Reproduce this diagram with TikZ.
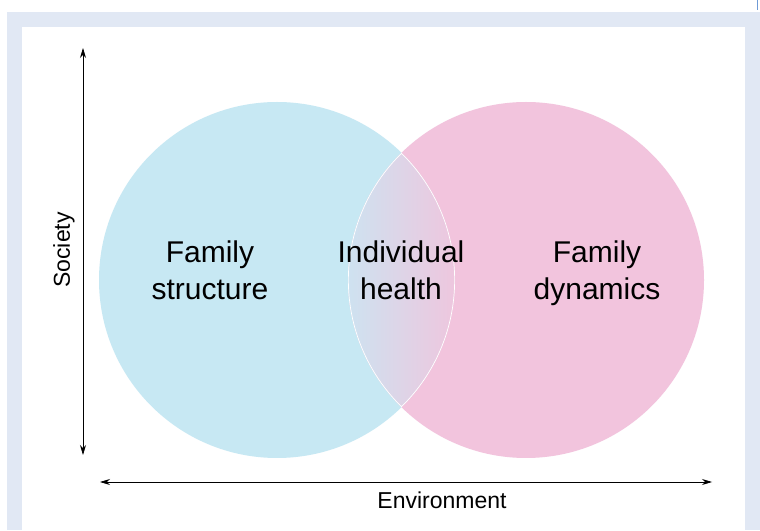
\documentclass[tikz,border=0pt]{standalone}
\usepackage{fontspec}
\setmainfont{Liberation Sans}
\usetikzlibrary{arrows.meta}

\definecolor{framebg}{RGB}{225,232,244}
\definecolor{tabline}{RGB}{111,155,214}
\definecolor{blueset}{RGB}{199,232,243}
\definecolor{pinkset}{RGB}{242,196,221}
\definecolor{lensl}{RGB}{206,226,240}
\definecolor{lensm}{RGB}{218,210,230}
\definecolor{lensr}{RGB}{238,198,222}

\begin{document}
\begin{tikzpicture}[x=1pt, y=1pt,
        lbl/.style={align=center, text depth=8pt, font=\fontsize{30}{37}\selectfont},
        axlbl/.style={font=\fontsize{23}{27}\selectfont},
        axis/.style={{Stealth[length=10pt,width=6pt]}-{Stealth[length=10pt,width=6pt]}, line width=0.8pt}]
        \useasboundingbox (0,0) rectangle (760,530);
        % panel
        \fill[framebg] (7,0) rectangle (760,518);
        \fill[white] (22,0) rectangle (745,503);
        \draw[tabline, line width=1.2pt] (757.5,530) -- (757.5,520);
        % the two sets
        \fill[blueset] (277,250) circle (178);
        \fill[pinkset] (526,250) circle (178);
        \begin{scope}
            \clip (277,250) circle (178);
            \clip (526,250) circle (178);
            \shade[left color=lensl, middle color=lensm, right color=lensr] (348,60) rectangle (456,440);
            \draw[white, line width=1.4pt] (277,250) circle (178) (526,250) circle (178);
        \end{scope}
        \node[lbl] (struct) at (210,256) {Family\\structure};
        \node[lbl] (health) at (401,256) {Individual\\health};
        \node[lbl] (dyn)    at (597,256) {Family\\dynamics};
        % axes
        \coordinate (soctop) at (83,482);
        \coordinate (socbot) at (83,75);
        \coordinate (envl) at (100,48);
        \coordinate (envr) at (712,48);
        \draw[axis] (socbot) -- (soctop);
        \draw[axis] (envl) -- (envr);
        \node[axlbl, rotate=90] (soc) at (64,280) {Society};
        \node[axlbl] (env) at (442,30) {Environment};
\end{tikzpicture}
\end{document}
